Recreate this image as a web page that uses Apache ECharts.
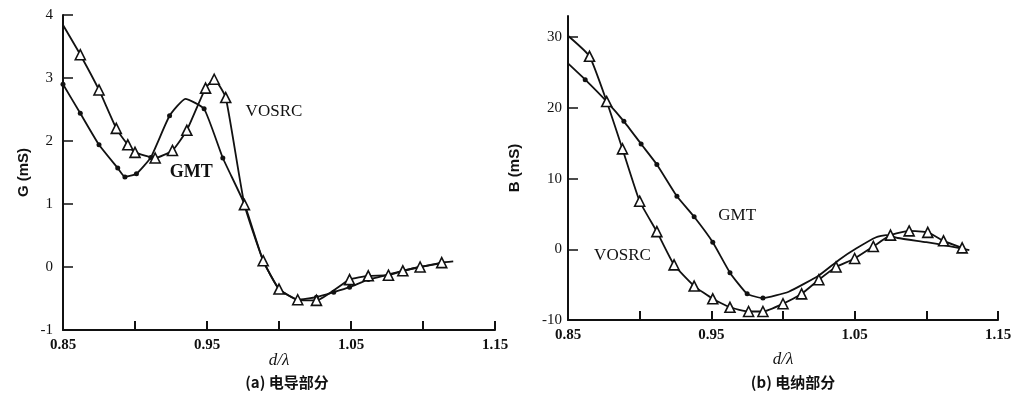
<!DOCTYPE html>
<html lang="zh">
<head>
<meta charset="UTF-8">
<title>G / B vs d/λ</title>
<script src="https://cdn.jsdelivr.net/npm/echarts@6/dist/echarts.min.js"></script>
<style>
  html, body { margin: 0; padding: 0; background: #fff; }
  #main { width: 1019px; height: 404px; }
</style>
</head>
<body>
<div id="main"></div>
<script>
// (a) conductance G (mS)
const gVosrcX = [0.85, 0.862, 0.875, 0.887, 0.895, 0.900, 0.914, 0.926, 0.936, 0.949, 0.955, 0.963, 0.976, 0.989, 1.000, 1.013, 1.026, 1.049, 1.062, 1.076, 1.086, 1.098, 1.113, 1.121];
const gVosrcY = [3.84, 3.37, 2.81, 2.20, 1.94, 1.82, 1.73, 1.85, 2.17, 2.84, 2.98, 2.69, 0.99, 0.10, -0.35, -0.52, -0.53, -0.20, -0.14, -0.13, -0.06, 0.00, 0.07, 0.09];
const gVosrcMarked = [1, 2, 3, 4, 5, 6, 7, 8, 9, 10, 11, 12, 13, 14, 15, 16, 17, 18, 19, 20, 21, 22];

const gGmtX = [0.85, 0.862, 0.875, 0.888, 0.893, 0.901, 0.911, 0.924, 0.935, 0.948, 0.961, 0.976, 0.989, 1.000, 1.013, 1.026, 1.038, 1.049, 1.062, 1.076, 1.086, 1.098, 1.113];
const gGmtY = [2.90, 2.44, 1.94, 1.57, 1.43, 1.48, 1.74, 2.40, 2.67, 2.51, 1.73, 1.00, 0.10, -0.35, -0.52, -0.48, -0.40, -0.32, -0.20, -0.12, -0.06, 0.00, 0.06];
const gGmtMarked = [0, 1, 2, 3, 4, 5, 6, 7, 9, 10, 14, 15, 16, 17, 18];

// (b) susceptance B (mS)
const bVosrcX = [0.85, 0.865, 0.877, 0.888, 0.900, 0.912, 0.924, 0.938, 0.951, 0.963, 0.976, 0.986, 1.000, 1.013, 1.025, 1.037, 1.050, 1.063, 1.075, 1.088, 1.101, 1.112, 1.125];
const bVosrcY = [30.2, 27.3, 20.9, 14.2, 6.8, 2.5, -2.2, -5.2, -7.0, -8.2, -8.8, -8.8, -7.7, -6.3, -4.3, -2.5, -1.3, 0.4, 2.0, 2.6, 2.4, 1.2, 0.2];
const bVosrcMarked = [1, 2, 3, 4, 5, 6, 7, 8, 9, 10, 11, 12, 13, 14, 15, 16, 17, 18, 19, 20, 21, 22];

const bGmtX = [0.85, 0.862, 0.877, 0.889, 0.901, 0.912, 0.926, 0.938, 0.951, 0.963, 0.975, 0.986, 1.004, 1.025, 1.039, 1.051, 1.065, 1.072, 1.080, 1.100, 1.115, 1.130];
const bGmtY = [26.3, 24.0, 20.9, 18.1, 14.9, 12.0, 7.5, 4.6, 1.0, -3.3, -6.3, -6.9, -6.0, -3.7, -1.5, 0.1, 1.7, 2.0, 1.6, 1.0, 0.5, -0.1];
const bGmtMarked = [1, 2, 3, 4, 5, 6, 7, 8, 9, 10, 11];

// ticks and labels
const xTickVals = [0.85, 0.90, 0.95, 1.00, 1.05, 1.10, 1.15];
const xLabelVals = [0.85, 0.95, 1.05, 1.15];
const gYVals = [-1, 0, 1, 2, 3, 4];
const bYVals = [-10, 0, 10, 20, 30];

const ink = '#111';
const serif = "'Liberation Serif', 'DejaVu Serif', serif";

function pts(xs, ys, marked, sym) {
  return xs.map((x, i) => ({
    value: [x, ys[i]],
    symbol: marked.includes(i) ? sym : 'none'
  }));
}

function xAxisOf(idx, gap) {
  return {
    gridIndex: idx, type: 'value', min: 0.85, max: 1.15,
    name: 'd/λ', nameLocation: 'middle', nameGap: gap, nameMoveOverlap: false,
    nameTextStyle: { fontFamily: serif, fontStyle: 'italic', fontSize: 17, color: ink },
    axisLine: { onZero: false, lineStyle: { color: ink, width: 2 } },
    axisTick: { inside: true, length: 9, lineStyle: { color: ink, width: 2 }, customValues: xTickVals },
    axisLabel: { customValues: xLabelVals, margin: 8, fontFamily: serif, fontSize: 15, fontWeight: 'bold', color: ink,
      formatter: v => v.toFixed(2) },
    splitLine: { show: false }
  };
}

function yAxisOf(idx, min, max, vals, name, gap, margin) {
  return {
    gridIndex: idx, type: 'value', min: min, max: max,
    name: name, nameLocation: 'middle', nameGap: gap, nameRotate: 90, nameMoveOverlap: false,
    nameTextStyle: { fontFamily: "'Liberation Sans', sans-serif", fontWeight: 'bold', fontSize: 15, color: ink },
    axisLine: { onZero: false, lineStyle: { color: ink, width: 2 } },
    axisTick: { inside: true, length: 10, lineStyle: { color: ink, width: 1.5 }, customValues: vals },
    axisLabel: { customValues: vals, margin: margin, fontFamily: serif, fontSize: 15, color: ink },
    splitLine: { show: false }
  };
}

function tag(text, x, y, weight, size) {
  return {
    symbol: 'circle', symbolSize: 0, coord: [x, y],
    label: { show: true, position: 'inside', formatter: text, color: ink, fontFamily: serif, fontWeight: weight, fontSize: size }
  };
}

function lineSeries(idx, data, tri, marks) {
  return {
    type: 'line', xAxisIndex: idx, yAxisIndex: idx, data: data, smooth: 0.15,
    symbolSize: tri ? 10 : 5, z: tri ? 3 : 2,
    lineStyle: { color: ink, width: 1.8 },
    itemStyle: tri ? { color: '#fff', borderColor: ink, borderWidth: 1.6 } : { color: ink, borderWidth: 0 },
    animation: false,
    markPoint: { silent: true, animation: false, data: marks }
  };
}

const chart = echarts.init(document.getElementById('main'));
chart.setOption({
  backgroundColor: '#fff',
  animation: false,
  grid: [
    { left: 63, top: 15, width: 432, height: 315 },
    { left: 568, top: 16, width: 430, height: 304 }
  ],
  xAxis: [xAxisOf(0, 22), xAxisOf(1, 31)],
  yAxis: [
    yAxisOf(0, -1, 4, gYVals, 'G (mS)', 32, 10),
    yAxisOf(1, -10, 33, bYVals, 'B (mS)', 46, 6)
  ],
  series: [
    lineSeries(0, pts(gGmtX, gGmtY, gGmtMarked, 'circle'), false, [tag('GMT', 0.939, 1.51, 'bold', 18)]),
    lineSeries(0, pts(gVosrcX, gVosrcY, gVosrcMarked, 'triangle'), true, [tag('VOSRC', 0.9965, 2.46, 'normal', 17)]),
    lineSeries(1, pts(bGmtX, bGmtY, bGmtMarked, 'circle'), false, [tag('GMT', 0.968, 4.8, 'normal', 17)]),
    lineSeries(1, pts(bVosrcX, bVosrcY, bVosrcMarked, 'triangle'), true, [tag('VOSRC', 0.888, -0.85, 'normal', 17)])
  ],
  graphic: [
    { type: 'text', x: 287, y: 382, style: { text: '(a) 电导部分', textAlign: 'center', textVerticalAlign: 'middle',
      font: "bold 15px 'Noto Sans CJK SC'", fill: ink } },
    { type: 'text', x: 793, y: 382, style: { text: '(b) 电纳部分', textAlign: 'center', textVerticalAlign: 'middle',
      font: "bold 15px 'Noto Sans CJK SC'", fill: ink } }
  ]
});
</script>
</body>
</html>
